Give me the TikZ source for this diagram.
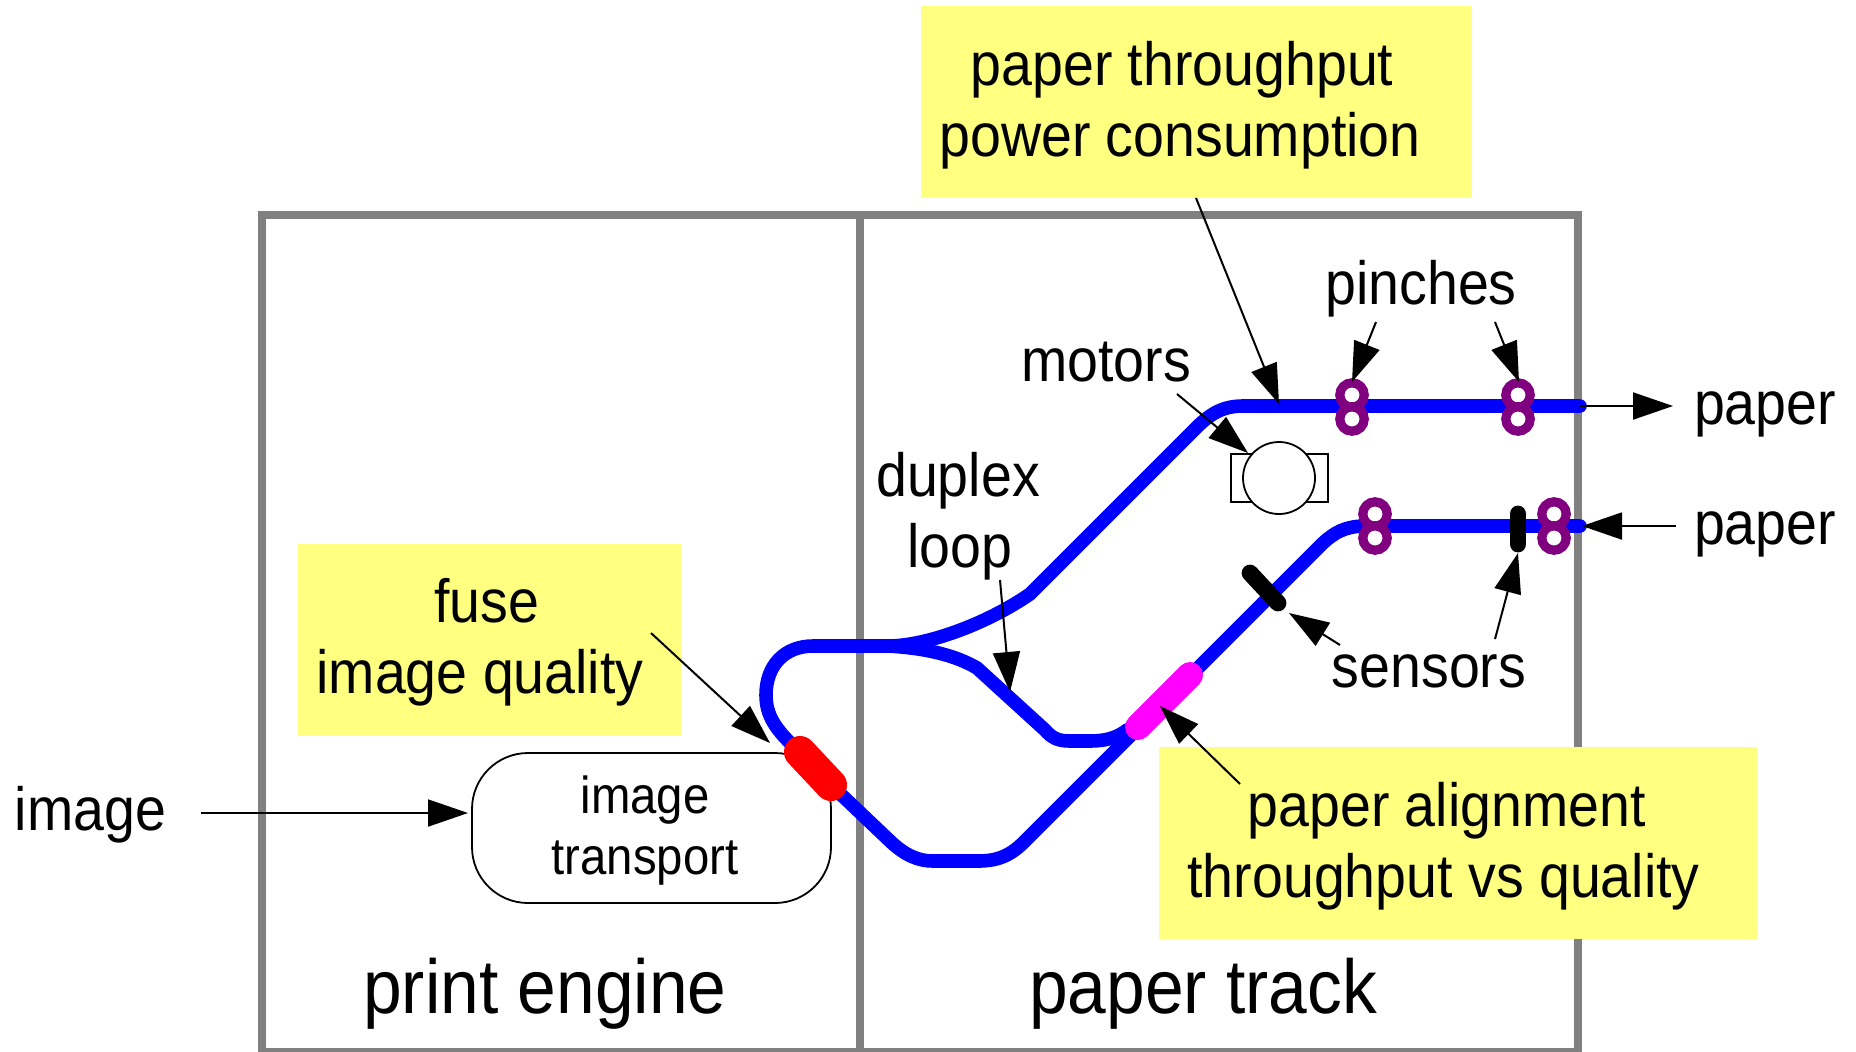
\documentclass[tikz,border=0pt]{standalone}
\usepackage{fontspec}
\setmainfont[FakeStretch=0.91]{Liberation Sans}
\usetikzlibrary{arrows.meta}
\definecolor{frameGray}{RGB}{128,128,128}
\definecolor{noteYellow}{RGB}{255,255,128}
\definecolor{pinchPurple}{RGB}{128,0,128}
\definecolor{alignMagenta}{RGB}{255,0,255}
\definecolor{trackBlue}{RGB}{0,0,255}
\definecolor{fuseRed}{RGB}{255,0,0}
\newcommand{\stacklines}[3]{\hspace*{#1}\raisebox{#2}{\begin{tabular}[t]{@{}c@{}}#3\end{tabular}}}
\tikzset{
  frameline/.style={draw=frameGray,line width=4pt},
  track/.style={draw=trackBlue,line width=6.8pt,line cap=round},
  notebox/.style={fill=noteYellow,inner sep=0pt,font=\fontsize{30.5}{35.5}\selectfont},
  lbl/.style={inner sep=0pt,anchor=base,font=\fontsize{30.5}{35.5}\selectfont},
  biglbl/.style={inner sep=0pt,anchor=base,font=\fontsize{38.2}{44}\selectfont},
  pinchring/.style={circle,draw=pinchPurple,fill=white,line width=4.6pt,minimum size=12.2pt,inner sep=0pt,outer sep=0pt},
  sensorbar/.style={draw=black,line width=8.4pt,line cap=round},
  ptr/.style={draw=black,line width=1pt,-{Triangle[length=20pt,width=13.5pt]}},
  device/.style={draw=black,line width=0.9pt,fill=white}
}
\begin{document}
\begin{tikzpicture}[x=0.5pt,y=-0.5pt]
\useasboundingbox (0,0) rectangle (1856,1051);
% frame
\coordinate (fTL) at (262,215);
\coordinate (fTR) at (1578,215);
\coordinate (fBL) at (262,1052);
\coordinate (fBR) at (1578,1052);
\coordinate (fTM) at (860,215);
\coordinate (fBM) at (860,1052);
\draw[frameline] (fTL) -- (fTR) -- (fBR) -- (fBL) -- cycle;
\draw[frameline] (fTM) -- (fBM);
% yellow notes
\node[notebox,minimum width=275.5pt,text height=48pt,text depth=48pt] (noteTop) at (1196.5,102)
  {\stacklines{-16.5pt}{8.5pt}{\hspace*{2pt}paper throughput\\power consumption}};
\node[notebox,minimum width=191.5pt,text height=48pt,text depth=48pt] (noteFuse) at (489.5,640)
  {\stacklines{-9.5pt}{9pt}{\hspace*{6.5pt}fuse\\image quality}};
\node[notebox,minimum width=299pt,text height=48pt,text depth=48pt] (noteAlign) at (1458,843)
  {\stacklines{-14.4pt}{8.5pt}{\hspace*{3pt}paper alignment\\throughput vs quality}};
% image transport
\node[device,rounded corners=28pt,minimum width=179.5pt,inner sep=0pt,text height=37.5pt,text depth=37.5pt,
      font=\fontsize{26}{30.5}\selectfont] (transport) at (651.5,828)
  {\stacklines{-6.5pt}{7.5pt}{image\\transport}};
% motor
\node[device,rectangle,minimum width=48.5pt,minimum height=24pt,inner sep=0pt] (motorBody) at (1279.5,478) {};
\node[device,circle,minimum size=36pt,inner sep=0pt] (motorDisc) at (1279,478) {};
% paper track
\coordinate (fuseA) at (800,752);
\coordinate (fuseB) at (831,785);
\coordinate (split) at (888,646);
\coordinate (outEnd) at (1580,406);
\coordinate (inEnd) at (1580,526);
\path[track] (fuseA) .. controls (775,730) and (766,715) .. (766,695)
  .. controls (766,665) and (785,646) .. (813,646) -- (split);
\path[track] (split) .. controls (925,646) and (985,625) .. (1030,594) -- (1197,427)
  .. controls (1212,412) and (1225,406) .. (1243,406) -- (outEnd);
\path[track] (split) .. controls (925,648) and (955,655) .. (977,668) -- (1045,730)
  .. controls (1052,738) and (1058,741) .. (1070,741) -- (1090,741)
  .. controls (1105,741) and (1117,738) .. (1127,730);
\path[track] (fuseB) -- (891,842) .. controls (905,855) and (918,861) .. (933,861) -- (978,861)
  .. controls (1000,861) and (1012,854) .. (1025,841) -- (1323,543)
  .. controls (1335,532) and (1345,527) .. (1362,526) -- (inEnd);
% fuser and aligner
\draw[draw=fuseRed,line width=16pt,line cap=round] (fuseA) -- (fuseB);
\coordinate (alignA) at (1138,727);
\coordinate (alignB) at (1190,675);
\draw[draw=alignMagenta,line width=13pt,line cap=round] (alignA) -- (alignB);
% sensors
\coordinate (sensAa) at (1250,573);
\coordinate (sensAb) at (1278,603);
\coordinate (sensBa) at (1518,514);
\coordinate (sensBb) at (1518,544);
\draw[sensorbar] (sensAa) -- (sensAb);
\draw[sensorbar] (sensBa) -- (sensBb);
% pinches
\node[pinchring] (p1a) at (1352,395) {};
\node[pinchring] (p1b) at (1352,419) {};
\node[pinchring] (p2a) at (1518,395) {};
\node[pinchring] (p2b) at (1518,419) {};
\node[pinchring] (p3a) at (1375,514) {};
\node[pinchring] (p3b) at (1375,538) {};
\node[pinchring] (p4a) at (1554,514) {};
\node[pinchring] (p4b) at (1554,538) {};
% labels
\node[lbl] (lblImage) at (90.5,830) {image};
\node[lbl] (lblDuplex) at (958,496) {\begin{tabular}[t]{@{}c@{}}duplex\\\hspace*{2pt}loop\end{tabular}};
\node[lbl] (lblMotors) at (1106,381) {motors};
\node[lbl] (lblPinches) at (1421,304) {pinches};
\node[lbl] (lblOut) at (1765,424) {paper};
\node[lbl] (lblIn) at (1765,544) {paper};
\node[lbl] (lblSensors) at (1429,687) {sensors};
\node[biglbl] (lblEngine) at (545,1013) {print engine};
\node[biglbl] (lblTrack) at (1203,1013) {paper track};
% pointers
\coordinate (a1s) at (201,813); \coordinate (a1t) at (468,813);
\draw[ptr] (a1s) -- (a1t);
\coordinate (a2s) at (651,633); \coordinate (a2t) at (770,743);
\draw[ptr] (a2s) -- (a2t);
\coordinate (a3s) at (1196,198); \coordinate (a3t) at (1279,404);
\draw[ptr] (a3s) -- (a3t);
\coordinate (a4s) at (1177,394); \coordinate (a4t) at (1248,453);
\draw[ptr] (a4s) -- (a4t);
\coordinate (a5s) at (1000,580); \coordinate (a5t) at (1010,692);
\draw[ptr] (a5s) -- (a5t);
\coordinate (a6s) at (1376,322); \coordinate (a6t) at (1352,382);
\draw[ptr] (a6s) -- (a6t);
\coordinate (a7s) at (1495,322); \coordinate (a7t) at (1519,382);
\draw[ptr] (a7s) -- (a7t);
\coordinate (a12t) at (1673,406);
\draw[ptr] (outEnd) -- (a12t);
\coordinate (a8s) at (1676,526); \coordinate (a8t) at (1582,526);
\draw[ptr] (a8s) -- (a8t);
\coordinate (a9s) at (1340,645); \coordinate (a9t) at (1289,613);
\draw[ptr] (a9s) -- (a9t);
\coordinate (a10s) at (1495,639); \coordinate (a10t) at (1518,553);
\draw[ptr] (a10s) -- (a10t);
\coordinate (a11s) at (1240,784); \coordinate (a11t) at (1160,706);
\draw[ptr] (a11s) -- (a11t);
\end{tikzpicture}
\end{document}
